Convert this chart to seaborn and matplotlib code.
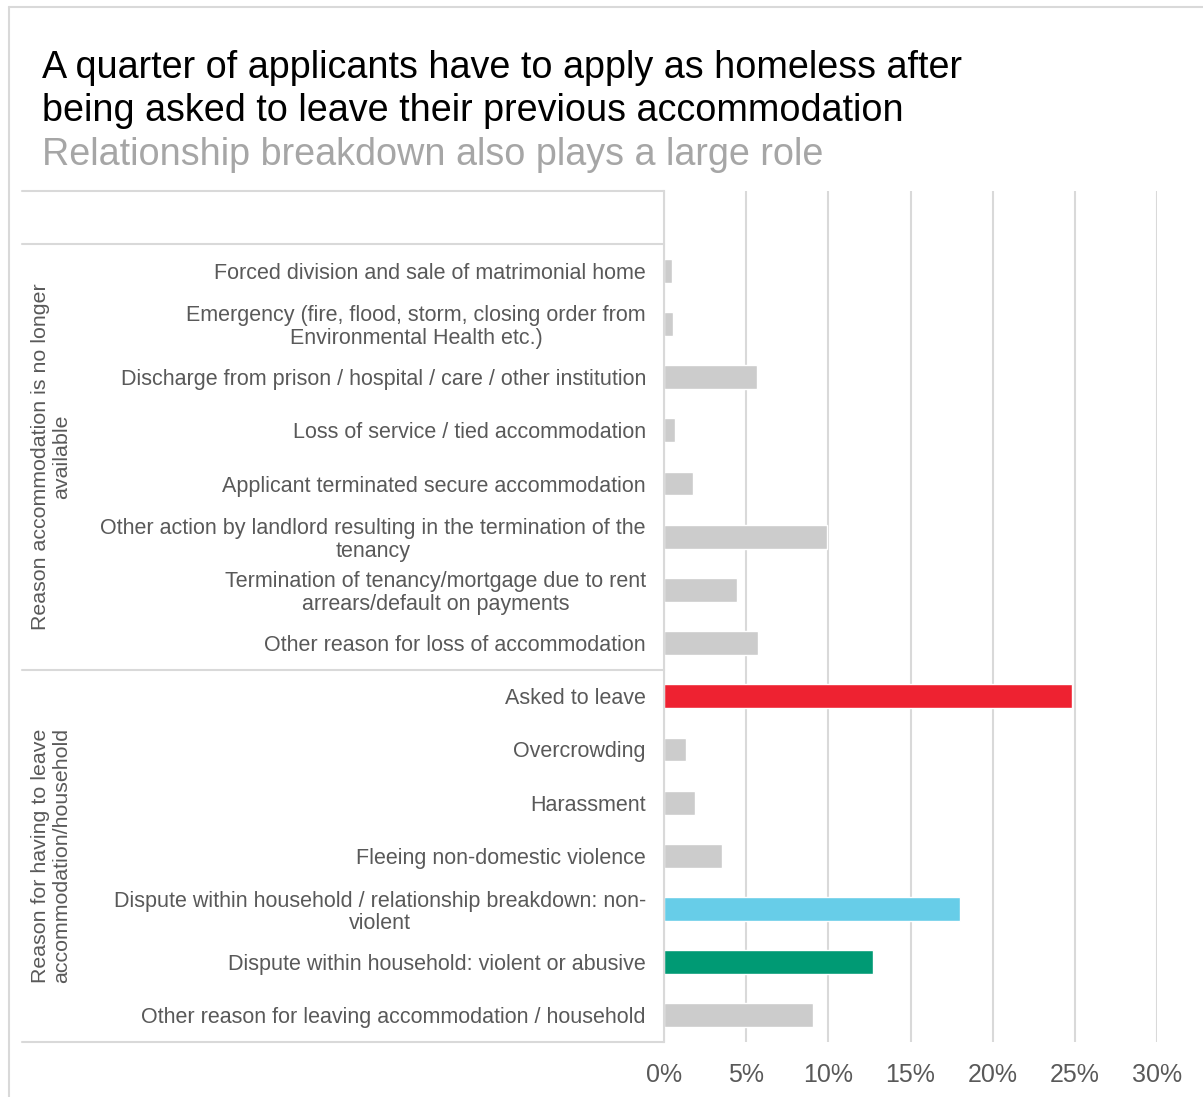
import matplotlib
matplotlib.use("Agg")
import matplotlib.pyplot as plt
import seaborn as sns
import pandas as pd
from matplotlib.lines import Line2D

categories = [
    "Forced division and sale of matrimonial home",
    "Emergency (fire, flood, storm, closing order from\nEnvironmental Health etc.)",
    "Discharge from prison / hospital / care / other institution",
    "Loss of service / tied accommodation",
    "Applicant terminated secure accommodation",
    "Other action by landlord resulting in the termination of the\ntenancy",
    "Termination of tenancy/mortgage due to rent\narrears/default on payments",
    "Other reason for loss of accommodation",
    "Asked to leave",
    "Overcrowding",
    "Harassment",
    "Fleeing non-domestic violence",
    "Dispute within household / relationship breakdown: non-\nviolent",
    "Dispute within household: violent or abusive",
    "Other reason for leaving accommodation / household",
]
values = [0.5, 0.55, 5.65, 0.65, 1.75, 9.9, 4.45, 5.7, 24.8, 1.35, 1.9, 3.5, 18.0, 12.7, 9.05]
group_labels = ["Reason accommodation is no longer\navailable",
                "Reason for having to leave\naccommodation/household"]
group_sizes = [8, 7]
x_ticks = [0, 5, 10, 15, 20, 25, 30]
x_tick_labels = ["0%", "5%", "10%", "15%", "20%", "25%", "30%"]
title = "A quarter of applicants have to apply as homeless after\nbeing asked to leave their previous accommodation"
subtitle = "Relationship breakdown also plays a large role"

GRAY = "#cccccc"
highlight = {"Asked to leave": "#ee2231",
             "Dispute within household / relationship breakdown: non-\nviolent": "#67cde8",
             "Dispute within household: violent or abusive": "#009a74"}
palette = {c: highlight.get(c, GRAY) for c in categories}

sns.set_theme(style="white")
plt.rcParams['font.family'] = ['Liberation Sans', 'DejaVu Sans']

W, H = 1203, 1097
fig = plt.figure(figsize=(W / 100, H / 100), dpi=100)
x0, x1 = 664, 1157
y_top, y_bot = 191, 1042
ax = fig.add_axes([x0 / W, 1 - y_bot / H, (x1 - x0) / W, (y_bot - y_top) / H])

df = pd.DataFrame({"category": categories, "value": values})
sns.barplot(data=df, x="value", y="category", hue="category", order=categories,
            hue_order=categories, palette=palette, legend=False, width=0.45,
            saturation=1, ax=ax)

n = len(categories)
ax.set_ylim(n - 0.5, -1.5)
ax.set_xlim(0, 30)
ax.set_xticks(x_ticks)
ax.set_xticklabels(x_tick_labels)
ax.set_xlabel("")
ax.set_ylabel("")
ax.xaxis.grid(True, color="#d9d9d9", linewidth=1.5)
ax.set_axisbelow(True)
for s in ["top", "right", "bottom"]:
    ax.spines[s].set_visible(False)
ax.spines["left"].set_color("#d9d9d9")
ax.spines["left"].set_linewidth(1.5)
ax.tick_params(axis="y", length=0, pad=13, labelsize=15.5, labelcolor="#595959")
ax.tick_params(axis="x", length=0, pad=15, labelsize=18, labelcolor="#595959")
for t in ax.get_yticklabels():
    t.set_multialignment("center")
    t.set_linespacing(1.12)

# table lines
xl = (22 - x0) / (x1 - x0)
bounds = [-1.5, -0.5]
acc = -0.5
for g in group_sizes:
    acc += g
    bounds.append(acc)
for b in bounds:
    ax.plot([xl, 0], [b, b], color="#d9d9d9", lw=1.5,
            transform=ax.get_yaxis_transform(), clip_on=False)

# group labels
start = -0.5
for lab, g in zip(group_labels, group_sizes):
    mid = start + g / 2
    ax.text((51 - x0) / (x1 - x0), mid, lab, rotation=90, ha="center", va="center",
            fontsize=15.4, color="#595959", multialignment="center", linespacing=1.15,
            transform=ax.get_yaxis_transform())
    start += g

# frame border
fig.add_artist(Line2D([9 / W, 9 / W], [0, 1 - 7 / H], color="#d9d9d9", lw=1.5))
fig.add_artist(Line2D([9 / W, 1], [1 - 7 / H, 1 - 7 / H], color="#d9d9d9", lw=1.5))

fig.text(42 / W, 1 - 50 / H, title, ha="left", va="top", fontsize=27.2,
         color="black", linespacing=1.24)
fig.text(42 / W, 1 - 137 / H, subtitle, ha="left", va="top", fontsize=27.2,
         color="#a6a6a6")

fig.savefig("out.png", dpi=100)
